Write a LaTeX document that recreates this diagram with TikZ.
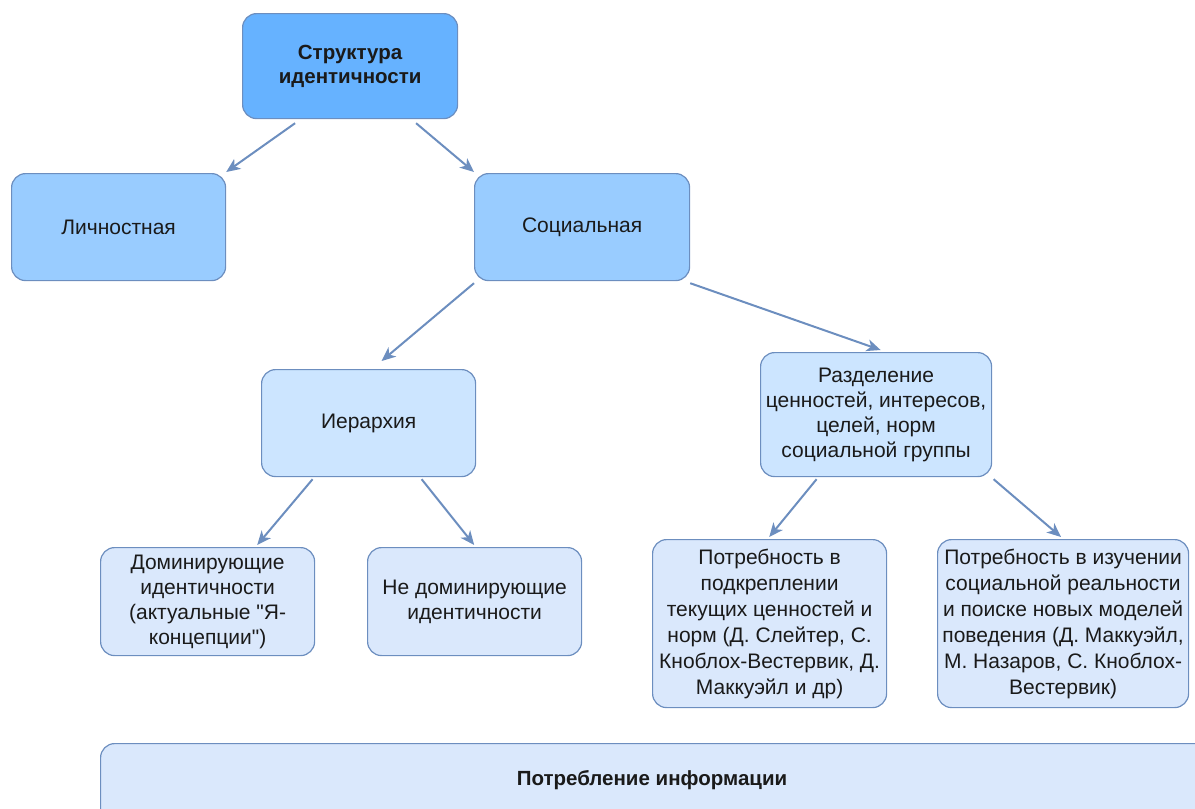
\documentclass[tikz,border=0pt]{standalone}
\usepackage{fontspec}
\setmainfont{Liberation Sans}[Ligatures=TeXOff]
\usetikzlibrary{arrows.meta,calc}
\definecolor{cTop}{HTML}{66B2FF}
\definecolor{cMid}{HTML}{99CCFF}
\definecolor{cLow}{HTML}{CCE5FF}
\definecolor{cLeaf}{HTML}{DAE8FC}
\definecolor{cLine}{HTML}{6C8EBF}
\definecolor{cTxt}{HTML}{1A1A1A}
\tikzset{
  box/.style={draw=cLine, line width=1.2pt, rounded corners=14pt, anchor=north west,
    align=center, inner sep=2pt, text=cTxt,
    font=\fontsize{21}{25}\selectfont},
  arr/.style={draw=cLine, line width=2pt, -{Stealth[length=14pt,width=12pt,inset=4pt]}}
}
\begin{document}
\begin{tikzpicture}[x=1pt,y=-1pt]
\useasboundingbox (0,0) rectangle (1195,809);
\node[box, fill=cTop, minimum width=215pt, minimum height=105pt, text depth=4pt, font=\bfseries\fontsize{20.5}{23.5}\selectfont] (top) at (242,13) {Структура\\идентичности};
\node[box, fill=cMid, minimum width=214pt, minimum height=107pt] (lich) at (11,173) {Личностная};
\node[box, fill=cMid, minimum width=215pt, minimum height=107pt] (soc) at (474,173) {Социальная};
\node[box, fill=cLow, minimum width=214pt, minimum height=107pt] (ier) at (261,369) {Иерархия};
\node[box, fill=cLow, minimum width=231pt, minimum height=124pt] (razd) at (760,352) {Разделение\\ценностей, интересов,\\целей, норм\\социальной группы};
\node[box, fill=cLeaf, minimum width=214pt, minimum height=108pt] (dom) at (100,547) {Доминирующие\\идентичности\\(актуальные \symbol{34}Я-\\концепции\symbol{34})};
\node[box, fill=cLeaf, minimum width=214pt, minimum height=108pt] (nedom) at (367,547) {Не доминирующие\\идентичности};
\node[box, fill=cLeaf, minimum width=234pt, minimum height=168pt, font=\fontsize{21}{26}\selectfont] (potr1) at (652,539) {Потребность в\\подкреплении\\текущих ценностей и\\норм (Д. Слейтер, С.\\Кноблох-Вестервик, Д.\\Маккуэйл и др)};
\node[box, fill=cLeaf, minimum width=251pt, minimum height=168pt, font=\fontsize{21}{26}\selectfont] (potr2) at (937,539) {Потребность в изучении\\социальной реальности\\и поиске новых моделей\\поведения (Д. Маккуэйл,\\М. Назаров, С. Кноблох-\\Вестервик)};
\node[box, fill=cLeaf, minimum width=1120pt, minimum height=80pt] (cons) at (100,743) {};
\node[font=\bfseries\fontsize{20.5}{24}\selectfont, text=cTxt] (consT) at (652,780) {Потребление информации};
\draw[arr] ([xshift=-55pt,yshift=-4pt]top.south) -- ([yshift=1pt]lich.north east);
\draw[arr] ([xshift=66pt,yshift=-4pt]top.south) -- ([yshift=1pt]soc.north west);
\draw[arr] ([yshift=-2pt]soc.south west) -- ([xshift=13pt,yshift=8pt]ier.north);
\draw[arr] ([yshift=-2pt]soc.south east) -- ([xshift=4.5pt,yshift=2pt]razd.north);
\draw[arr] ([xshift=-56pt,yshift=-2pt]ier.south) -- ([xshift=-58pt,yshift=2pt]dom.north east);
\draw[arr] ([xshift=53pt,yshift=-2pt]ier.south) -- ([xshift=-108pt,yshift=2pt]nedom.north east);
\draw[arr] ([xshift=-59.5pt,yshift=-2pt]razd.south) -- ([xshift=-118pt,yshift=2pt]potr1.north east);
\draw[arr] ([xshift=117.5pt,yshift=-2pt]razd.south) -- ([xshift=124pt,yshift=2pt]potr2.north west);
\end{tikzpicture}
\end{document}
